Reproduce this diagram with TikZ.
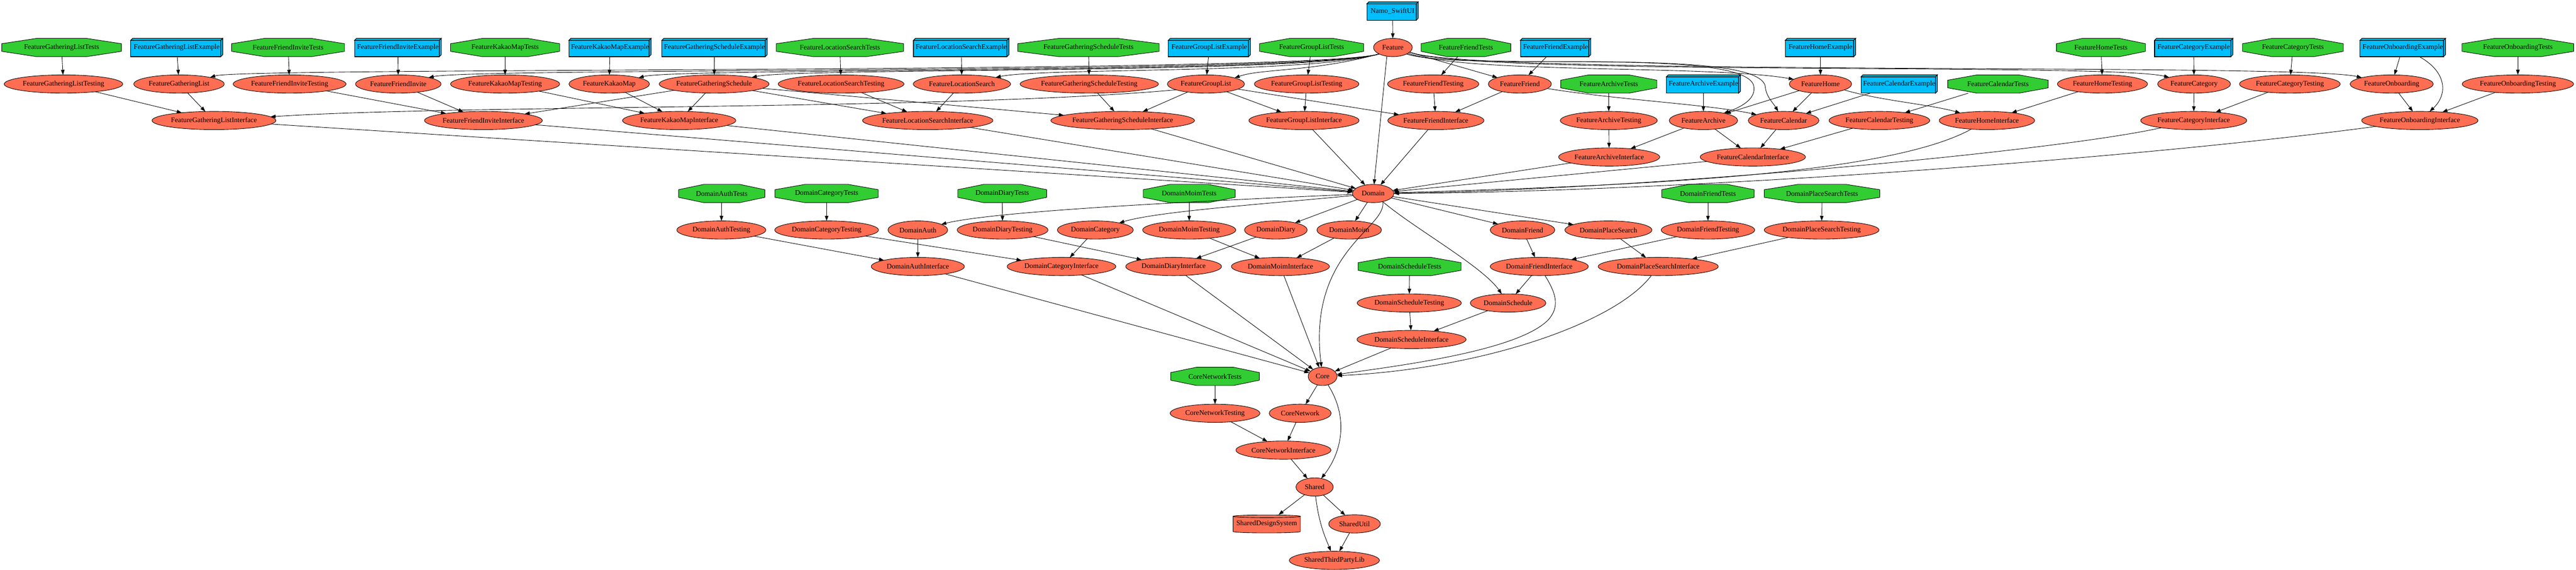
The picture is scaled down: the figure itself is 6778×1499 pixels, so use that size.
\documentclass[tikz,border=0pt]{standalone}
\usepackage{fontspec}
\setmainfont{Liberation Serif}
\usetikzlibrary{shapes.geometric,arrows.meta,calc}
\definecolor{tom}{RGB}{255,110,82}
\definecolor{lgreen}{RGB}{50,205,50}
\definecolor{dsb}{RGB}{0,191,255}
\pgfdeclarelayer{background}
\pgfsetlayers{background,main}
\tikzset{
  wd/.style={minimum width={#1*0.75pt}},
  ell/.style={ellipse, draw=black, line width=0.9pt, fill=tom, minimum height=36pt},
  oct/.style={rectangle, minimum height=36pt},
  bx/.style={rectangle, minimum height=36pt},
  cyl/.style={rectangle, minimum height=36pt},
  edg/.style={-{Triangle[length=10pt,width=7pt]}, line width=0.9pt},
  octshape/.style={fill=lgreen, draw=black, line width=0.9pt},
  boxshape/.style={fill=dsb, draw=black, line width=1.2pt, line join=miter},
  cylshape/.style={fill=tom, draw=black, line width=0.9pt}
}
\begin{document}
\begin{tikzpicture}[x=0.75pt,y=-0.75pt,
  every node/.style={font=\fontsize{14}{16}\selectfont, inner sep=0pt, outer sep=0pt}]
\useasboundingbox (0,0) rectangle (6778,1499);

% rank 0
\node[bx,wd=135] (namo) at (3664,29) {Namo\_SwiftUI};

% rank 1
\node[oct,wd=315] (glT) at (162,125) {FeatureGatheringListTests};
\node[bx,wd=242] (glE) at (465,125) {FeatureGatheringListExample};
\node[oct,wd=297] (fiT) at (758,125) {FeatureFriendInviteTests};
\node[bx,wd=228] (fiE) at (1047,125) {FeatureFriendInviteExample};
\node[oct,wd=287] (kmT) at (1329,125) {FeatureKakaoMapTests};
\node[bx,wd=216] (kmE) at (1605,125) {FeatureKakaoMapExample};
\node[bx,wd=277] (gsE) at (1880,125) {FeatureGatheringScheduleExample};
\node[oct,wd=335] (lsT) at (2210,125) {FeatureLocationSearchTests};
\node[bx,wd=251] (lsE) at (2529,125) {FeatureLocationSearchExample};
\node[oct,wd=372] (gsT) at (2864,125) {FeatureGatheringScheduleTests};
\node[bx,wd=216] (grE) at (3182,125) {FeatureGroupListExample};
\node[oct,wd=274] (grT) at (3451,125) {FeatureGroupListTests};
\node[ell,wd=102] (feat) at (3665,125) {Feature};
\node[oct,wd=236] (frT) at (3857,125) {FeatureFriendTests};
\node[bx,wd=185] (frE) at (4093,125) {FeatureFriendExample};
\node[bx,wd=185] (hoE) at (4790,125) {FeatureHomeExample};
\node[oct,wd=234] (hoT) at (5528,125) {FeatureHomeTests};
\node[bx,wd=206] (caE) at (5772,125) {FeatureCategoryExample};
\node[oct,wd=265] (caT) at (6033,125) {FeatureCategoryTests};
\node[bx,wd=225] (obE) at (6322,125) {FeatureOnboardingExample};
\node[oct,wd=294] (obT) at (6625,125) {FeatureOnboardingTests};

% rank 2
\node[ell,wd=312] (glt) at (167,221) {FeatureGatheringListTesting};
\node[ell,wd=238] (gl) at (471,221) {FeatureGatheringList};
\node[ell,wd=297] (fit) at (762,221) {FeatureFriendInviteTesting};
\node[ell,wd=225] (fi) at (1048,221) {FeatureFriendInvite};
\node[ell,wd=287] (kmt) at (1329,221) {FeatureKakaoMapTesting};
\node[ell,wd=212] (km) at (1603,221) {FeatureKakaoMap};
\node[ell,wd=289] (gs) at (1879,221) {FeatureGatheringSchedule};
\node[ell,wd=331] (lst) at (2213,221) {FeatureLocationSearchTesting};
\node[ell,wd=256] (ls) at (2531,221) {FeatureLocationSearch};
\node[ell,wd=364] (gst) at (2866,221) {FeatureGatheringScheduleTesting};
\node[ell,wd=203] (gr) at (3173,221) {FeatureGroupList};
\node[ell,wd=275] (grt) at (3438,221) {FeatureGroupListTesting};
\node[ell,wd=240] (frt) at (3771,221) {FeatureFriendTesting};
\node[ell,wd=166] (fr) at (3999,221) {FeatureFriend};
\node[oct,wd=253] (arT) at (4233,221) {FeatureArchiveTests};
\node[bx,wd=195] (arE) at (4482,221) {FeatureArchiveExample};
\node[ell,wd=164] (ho) at (4790,221) {FeatureHome};
\node[bx,wd=201] (clE) at (4997,221) {FeatureCalendarExample};
\node[oct,wd=264] (clT) at (5257,221) {FeatureCalendarTests};
\node[ell,wd=237] (hot) at (5532,221) {FeatureHomeTesting};
\node[ell,wd=192] (ca) at (5773,221) {FeatureCategory};
\node[ell,wd=265] (cat) at (6025,221) {FeatureCategoryTesting};
\node[ell,wd=219] (ob) at (6293,221) {FeatureOnboarding};
\node[ell,wd=293] (obt) at (6625,221) {FeatureOnboardingTesting};

% rank 3
\node[ell,wd=326] (gli) at (563,317) {FeatureGatheringListInterface};
\node[ell,wd=310] (fii) at (1272,317) {FeatureFriendInviteInterface};
\node[ell,wd=298] (kmi) at (1787,317) {FeatureKakaoMapInterface};
\node[ell,wd=343] (lsi) at (2441,317) {FeatureLocationSearchInterface};
\node[ell,wd=378] (gsi) at (2954,317) {FeatureGatheringScheduleInterface};
\node[ell,wd=290] (gri) at (3431,317) {FeatureGroupListInterface};
\node[ell,wd=253] (fri) at (3778,317) {FeatureFriendInterface};
\node[ell,wd=255] (art) at (4233,317) {FeatureArchiveTesting};
\node[ell,wd=180] (ar) at (4482,317) {FeatureArchive};
\node[ell,wd=186] (cl) at (4693,317) {FeatureCalendar};
\node[ell,wd=265] (clt) at (4945,317) {FeatureCalendarTesting};
\node[ell,wd=251] (hoi) at (5228,317) {FeatureHomeInterface};
\node[ell,wd=279] (cai) at (5772,317) {FeatureCategoryInterface};
\node[ell,wd=306] (obi) at (6367,317) {FeatureOnboardingInterface};

% rank 4
\node[ell,wd=266] (ari) at (4234,413) {FeatureArchiveInterface};
\node[ell,wd=277] (cli) at (4612,413) {FeatureCalendarInterface};

% rank 5
\node[oct,wd=227] (dauT) at (1899,509) {DomainAuthTests};
\node[oct,wd=272] (dcaT) at (2175,509) {DomainCategoryTests};
\node[oct,wd=234] (ddiT) at (2637,509) {DomainDiaryTests};
\node[oct,wd=242] (dmoT) at (3129,509) {DomainMoimTests};
\node[ell,wd=109] (dom) at (3613,509) {Domain};
\node[oct,wd=243] (dfrT) at (4494,509) {DomainFriendTests};
\node[oct,wd=304] (dplT) at (4794,509) {DomainPlaceSearchTests};

% rank 6
\node[ell,wd=234] (daut) at (1898,605) {DomainAuthTesting};
\node[ell,wd=273] (dcat) at (2175,605) {DomainCategoryTesting};
\node[ell,wd=157] (dau) at (2415,605) {DomainAuth};
\node[ell,wd=239] (ddit) at (2638,605) {DomainDiaryTesting};
\node[ell,wd=200] (dca) at (2882,605) {DomainCategory};
\node[ell,wd=245] (dmot) at (3129,605) {DomainMoimTesting};
\node[ell,wd=165] (ddi) at (3357,605) {DomainDiary};
\node[ell,wd=170] (dmo) at (3550,605) {DomainMoim};
\node[ell,wd=170] (dfr) at (4006,605) {DomainFriend};
\node[ell,wd=229] (dpl) at (4232,605) {DomainPlaceSearch};
\node[ell,wd=246] (dfrt) at (4494,605) {DomainFriendTesting};
\node[ell,wd=302] (dplt) at (4793,605) {DomainPlaceSearchTesting};

% rank 7
\node[ell,wd=245] (daui) at (2415,701) {DomainAuthInterface};
\node[ell,wd=286] (dcai) at (2793,701) {DomainCategoryInterface};
\node[ell,wd=252] (ddii) at (3088,701) {DomainDiaryInterface};
\node[ell,wd=258] (dmoi) at (3369,701) {DomainMoimInterface};
\node[oct,wd=271] (dscT) at (3709,701) {DomainScheduleTests};
\node[ell,wd=258] (dfri) at (4050,701) {DomainFriendInterface};
\node[ell,wd=316] (dpli) at (4363,701) {DomainPlaceSearchInterface};

% rank 8-9
\node[ell,wd=274] (dsct) at (3708,797) {DomainScheduleTesting};
\node[ell,wd=199] (dsc) at (3968,797) {DomainSchedule};
\node[ell,wd=287] (dsci) at (3714,893) {DomainScheduleInterface};

% core / shared
\node[oct,wd=233] (cnT) at (3197,990) {CoreNetworkTests};
\node[ell,wd=76] (core) at (3480,990) {Core};
\node[ell,wd=236] (cnt) at (3197,1087) {CoreNetworkTesting};
\node[ell,wd=163] (cn) at (3421,1087) {CoreNetwork};
\node[ell,wd=250] (cni) at (3377,1184) {CoreNetworkInterface};
\node[ell,wd=98] (sh) at (3459,1281) {Shared};
\node[cyl,wd=177] (sds) at (3333,1378) {SharedDesignSystem};
\node[ell,wd=136] (su) at (3564,1378) {SharedUtil};
\node[ell,wd=237] (stp) at (3511,1474) {SharedThirdPartyLib};

% shapes on background
\begin{pgfonlayer}{background}
\foreach \n in {glT,fiT,kmT,lsT,gsT,grT,frT,hoT,caT,obT,arT,clT,dauT,dcaT,ddiT,dmoT,dfrT,dplT,dscT,cnT} {
  \path[octshape] ($(\n.north west)!0.29!(\n.north east)$) -- ($(\n.north west)!0.71!(\n.north east)$)
    -- ($(\n.north east)!0.29!(\n.south east)$) -- ($(\n.north east)!0.71!(\n.south east)$)
    -- ($(\n.south west)!0.71!(\n.south east)$) -- ($(\n.south west)!0.29!(\n.south east)$)
    -- ($(\n.north west)!0.71!(\n.south west)$) -- ($(\n.north west)!0.29!(\n.south west)$) -- cycle;
}
\foreach \n in {namo,glE,fiE,kmE,gsE,lsE,grE,frE,hoE,caE,obE,arE,clE} {
  \path[boxshape] ($(\n.north west)+(0,5)$) rectangle ($(\n.south east)+(-5,0)$);
  \path[boxshape] ($(\n.north west)+(0,5)$) -- ($(\n.north west)+(5,0)$) -- (\n.north east) -- ($(\n.north east)+(-5,5)$) -- cycle;
  \path[boxshape] ($(\n.north east)+(-5,5)$) -- (\n.north east) -- ($(\n.south east)+(0,-5)$) -- ($(\n.south east)+(-5,0)$) -- cycle;
}
\fill[tom] (3244.5,1358) -- (3244.5,1398) .. controls (3244.5,1403) and (3421.5,1403) .. (3421.5,1398) -- (3421.5,1358) -- cycle;
\draw[line width=0.9pt] (3244.5,1358) -- (3244.5,1398) .. controls (3244.5,1403) and (3421.5,1403) .. (3421.5,1398) -- (3421.5,1358);
\path[cylshape] (3333,1358) ellipse [x radius=88.5, y radius=3.5];
\end{pgfonlayer}

% ---------- edges ----------
\draw[edg] (namo) -- (feat);
\foreach \a/\b in {glT/glt, fiT/fit, kmT/kmt, lsT/lst, gsT/gst, grT/grt, frT/frt, hoT/hot, caT/cat, obT/obt, arT/art, clT/clt,
  dauT/daut, dcaT/dcat, ddiT/ddit, dmoT/dmot, dfrT/dfrt, dplT/dplt, dscT/dsct, cnT/cnt}
  \draw[edg] (\a) -- (\b);
\foreach \a/\b in {glE/gl, fiE/fi, kmE/km, gsE/gs, lsE/ls, grE/gr, frE/fr, hoE/ho, caE/ca, obE/ob, arE/ar, clE/cl}
  \draw[edg] (\a) -- (\b);
\foreach \a/\b in {glt/gli, gl/gli, fit/fii, fi/fii, kmt/kmi, km/kmi, lst/lsi, ls/lsi, gst/gsi, gs/gsi, grt/gri, gr/gri,
  frt/fri, fr/fri, hot/hoi, cat/cai, ca/cai, obt/obi, ob/obi, art/ari, ar/ari, clt/cli, cl/cli, ar/cli, ho/ar, ho/cl,
  gs/fii, gs/kmi, gs/lsi, gr/gsi, gr/fri}
  \draw[edg] (\a) -- (\b);
\foreach \a in {gli, fii, kmi, lsi, gsi, gri, fri, ari, cli}
  \draw[edg] (\a) -- (dom);
\foreach \a/\b in {dom/ddi, dom/dmo, dom/dfr, dom/dpl,
  daut/daui, dau/daui, dcat/dcai, dca/dcai, ddit/ddii, ddi/ddii, dmot/dmoi, dmo/dmoi,
  dfrt/dfri, dfr/dfri, dplt/dpli, dpl/dpli, dsct/dsci, dsc/dsci, dfri/dsc,
  daui/core, dcai/core, ddii/core, dmoi/core, dsci/core,
  core/cn, cnt/cni, cn/cni, cni/sh, sh/sds, sh/su, su/stp}
  \draw[edg] (\a) -- (\b);

% Feature fan-out (curves)
\draw[edg] (feat.205) .. controls (3450,195) and (640,176) .. (gl.12);
\draw[edg] (feat.205) .. controls (3450,195) and (1250,178) .. (fi.12);
\draw[edg] (feat.205) .. controls (3450,195) and (1780,178) .. (km.12);
\draw[edg] (feat.205) .. controls (3450,195) and (2100,178) .. (gs.10);
\draw[edg] (feat.205) .. controls (3450,195) and (2740,178) .. (ls.11);
\draw[edg] (feat.205) .. controls (3450,190) and (3320,180) .. (gr.12);
\draw[edg] (feat) -- (fr);
\draw[edg] (feat.-25) .. controls (3850,190) and (4610,120) .. (4615,230) .. controls (4618,260) and (4585,280) .. (ar);
\draw[edg] (feat.-25) .. controls (3850,190) and (4640,120) .. (4645,230) .. controls (4648,255) and (4665,270) .. (cl);
\draw[edg] (feat.-20) .. controls (3850,195) and (4500,170) .. (ho);
\draw[edg] (feat.-15) .. controls (3850,200) and (5550,165) .. (ca.165);
\draw[edg] (feat.-15) .. controls (3850,200) and (6050,165) .. (ob.168);
\draw[edg] (feat.235) -- (dom);

% other curves
\draw[edg] (gr.191) .. controls (2500,290) and (1200,275) .. (gli);
\draw[edg] (fr) .. controls (4250,262) and (4500,275) .. (cl);
\draw[edg] (ho.-14) .. controls (4950,265) and (5080,275) .. (hoi);
\draw[edg] (obE) .. controls (6440,190) and (6440,250) .. (obi);
\draw[edg] (hoi) .. controls (4950,470) and (4200,490) .. (dom);
\draw[edg] (cai) .. controls (5400,400) and (4300,500) .. (dom);
\draw[edg] (obi) .. controls (5600,420) and (4400,505) .. (dom);

% domain curves
\draw[edg] (dom) .. controls (3000,535) and (2600,560) .. (dau);
\draw[edg] (dom) .. controls (3350,535) and (3050,555) .. (dca);
\draw[edg] (dom.-40) .. controls (3650,600) and (3440,660) .. (core);
\draw[edg] (dom) .. controls (3720,600) and (3900,700) .. (dsc);
\draw[edg] (dfri) .. controls (4100,780) and (4100,810) .. (4075,840) .. controls (4000,920) and (3700,960) .. (core);
\draw[edg] (dpli) .. controls (4250,850) and (3900,970) .. (core);

% core / shared curves
\draw[edg] (core) .. controls (3550,1100) and (3530,1190) .. (sh);
\draw[edg] (sh) .. controls (3470,1380) and (3490,1420) .. (stp);
\end{tikzpicture}
\end{document}
